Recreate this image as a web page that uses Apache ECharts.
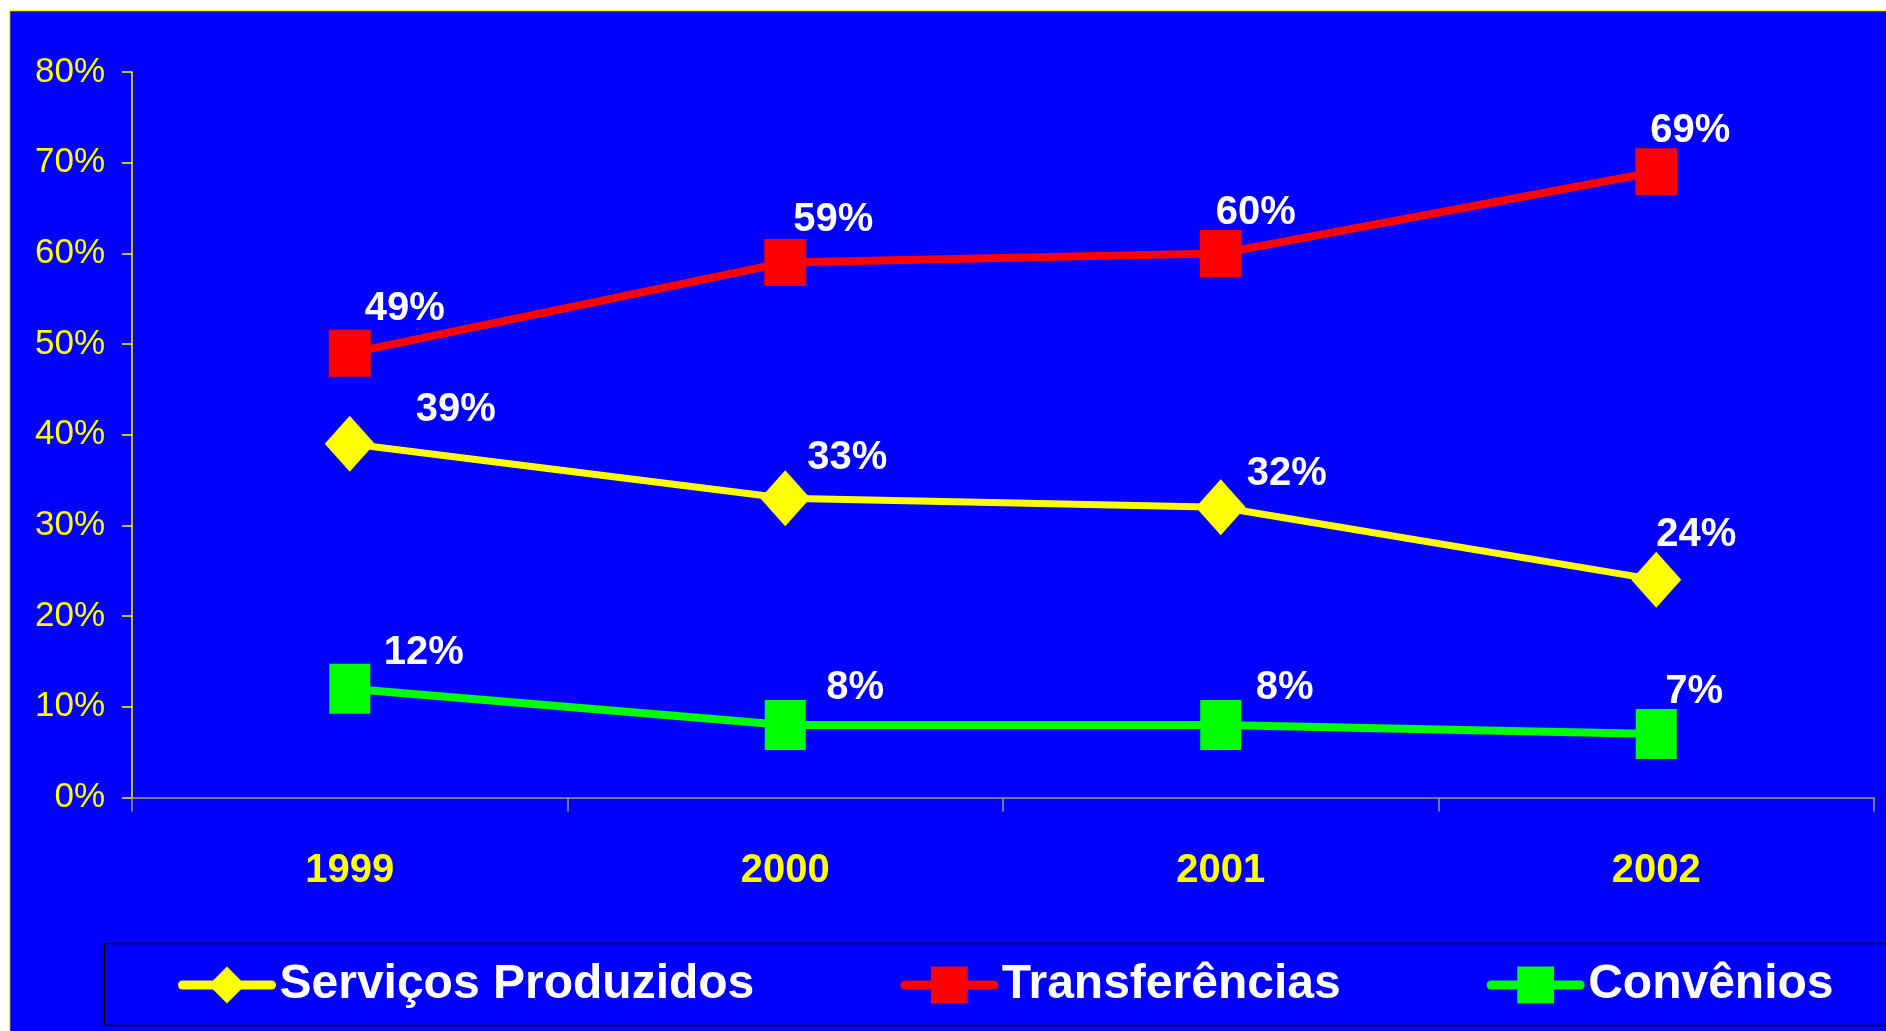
<!DOCTYPE html>
<html>
<head>
<meta charset="utf-8">
<script src="https://cdn.jsdelivr.net/npm/echarts@6/dist/echarts.min.js"></script>
<style>
html,body{margin:0;padding:0;background:#ffffff;}
#chart{width:1886px;height:1031px;}
</style>
</head>
<body>
<div id="chart"></div>
<script>
// ---- data ----
const years = ['1999', '2000', '2001', '2002'];
const servicosProduzidos = [0.39, 0.33, 0.32, 0.24];
const transferencias = [0.49, 0.59, 0.60, 0.69];
const convenios = [0.12, 0.08, 0.08, 0.07];
const yTicks = [0, 0.1, 0.2, 0.3, 0.4, 0.5, 0.6, 0.7, 0.8];

// ---- label placement (layout only) ----
const offServ = [[106, -34], [62, -40], [66, -33], [40, -45]];
const offTran = [[55, -44], [48, -42], [35, -40], [34, -41]];
const offConv = [[74, -36], [70, -37], [64, -37], [38, -42]];

const FONT = '"Liberation Sans", Arial, sans-serif';

function withLabels(values, offs) {
  return values.map((v, i) => ({ value: v, label: { offset: offs[i] } }));
}
function pct(v) { return Math.round(v * 100) + '%'; }

const labelCommon = {
  show: true,
  position: 'inside',
  color: '#ffffff',
  fontFamily: FONT,
  fontWeight: 'bold',
  fontSize: 40,
  formatter: p => pct(p.value)
};

const chart = echarts.init(document.getElementById('chart'), null, { renderer: 'canvas' });
chart.setOption({
  backgroundColor: '#ffffff',
  animation: false,
  graphic: [
    { type: 'rect', z: -100, shape: { x: 9.5, y: 10.5, width: 1900, height: 1040 },
      style: { fill: '#0000ff', stroke: '#ffff00', lineWidth: 1.5 } },
    { type: 'rect', z: -50, shape: { x: 104.5, y: 943.5, width: 1800, height: 82 },
      style: { fill: 'none', stroke: '#000000', lineWidth: 1.5 } }
  ],
  grid: { left: 132, right: 12, top: 72, bottom: 233.5, containLabel: false },
  xAxis: {
    type: 'category',
    data: years,
    boundaryGap: true,
    axisLine: { lineStyle: { color: '#a09c80', width: 1.5 } },
    axisTick: { show: true, length: 14, lineStyle: { color: '#a09c80', width: 1.5 } },
    axisLabel: { color: '#ffff00', fontFamily: FONT, fontWeight: 'bold', fontSize: 40, margin: 53 },
    splitLine: { show: false }
  },
  yAxis: {
    type: 'value',
    min: yTicks[0],
    max: yTicks[yTicks.length - 1],
    interval: 0.1,
    axisLine: { show: true, lineStyle: { color: '#ffff00', width: 1.5 } },
    axisTick: { show: true, length: 10, lineStyle: { color: '#ffff00', width: 1.5 } },
    axisLabel: { color: '#ffff00', fontFamily: FONT, fontSize: 35, margin: 27, formatter: v => pct(v) },
    splitLine: { show: false }
  },
  legend: {
    left: 178,
    top: 961,
    padding: 0,
    itemWidth: 89,
    itemHeight: 46,
    itemGap: 146,
    lineStyle: { width: 9, cap: 'round' },
    textStyle: { color: '#ffffff', fontFamily: FONT, fontWeight: 'bold', fontSize: 48, padding: [0, 0, 0, 3] },
    data: ['Serviços Produzidos', 'Transferências', 'Convênios']
  },
  series: [
    {
      name: 'Serviços Produzidos', type: 'line', z: 3,
      data: withLabels(servicosProduzidos, offServ),
      symbol: 'diamond', symbolSize: [50, 56],
      lineStyle: { color: '#ffff00', width: 7 },
      itemStyle: { color: '#ffff00' },
      label: labelCommon
    },
    {
      name: 'Transferências', type: 'line', z: 3,
      data: withLabels(transferencias, offTran),
      symbol: 'rect', symbolSize: [42, 47],
      lineStyle: { color: '#ff0000', width: 8 },
      itemStyle: { color: '#ff0000' },
      label: labelCommon
    },
    {
      name: 'Convênios', type: 'line', z: 3,
      data: withLabels(convenios, offConv),
      symbol: 'rect', symbolSize: [41, 50],
      lineStyle: { color: '#00ff00', width: 8 },
      itemStyle: { color: '#00ff00' },
      label: labelCommon
    }
  ]
});
</script>
</body>
</html>
